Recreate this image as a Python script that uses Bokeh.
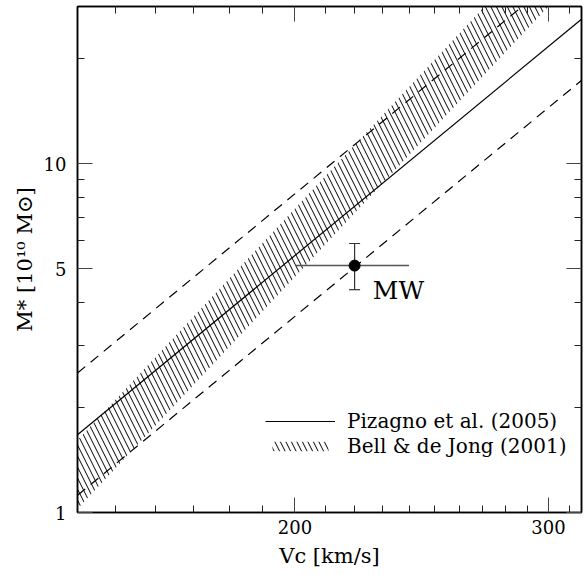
from bokeh.plotting import figure
from bokeh.models import (FixedTicker, LogAxis, Label, Legend, LegendItem, Range1d,
                          Whisker, TeeHead, ColumnDataSource, BasicTickFormatter)
from bokeh.embed import file_html
from bokeh.resources import INLINE

# ---- data ----
# Pizagno et al. (2005): end points of the relation and its scatter
piz_v = [141.25, 316.2]
piz_m = [1.67, 25.9]
piz_m_hi = [2.51, 38.9]
piz_m_lo = [1.12, 17.3]

# Bell & de Jong (2001) band (end points of upper and lower edges)
bell_v = [135.0, 320.0]
bell_m_hi = [1.32, 58.7]
bell_m_lo = [0.84, 37.5]

# Milky Way point
mw_v = [220.0]
mw_m = [5.1]
mw_v_lo = [200.0]
mw_v_hi = [240.0]
mw_m_lo = [4.35]
mw_m_hi = [5.9]

# axes
x_range = (141.25, 316.23)
y_range = (1.0, 28.18)
x_major = [200, 300]
x_minor = [150, 160, 170, 180, 190, 210, 220, 230, 240, 250, 260, 270, 280, 290, 310]
y_major = [1, 5, 10]
y_minor = [2, 3, 4, 6, 7, 8, 9, 20]

FONT = "DejaVu Serif"

p = figure(x_axis_type="log", y_axis_type="log",
           x_range=Range1d(*x_range), y_range=Range1d(*y_range),
           frame_width=504, frame_height=506, output_backend="svg", toolbar_location=None,
           min_border_left=77, min_border_right=3, min_border_top=6, min_border_bottom=64)
p.xgrid.visible = False
p.ygrid.visible = False
p.outline_line_color = "black"
p.outline_line_width = 1.5
p.background_fill_color = "white"
p.border_fill_color = "white"

xt = FixedTicker(ticks=x_major, minor_ticks=x_minor)
yt = FixedTicker(ticks=y_major, minor_ticks=y_minor)

def style_axis(ax, labels=True):
    ax.major_tick_in = 15
    ax.major_tick_out = 0
    ax.minor_tick_in = 7
    ax.minor_tick_out = 0
    ax.major_tick_line_color = "#444444"
    ax.minor_tick_line_color = "#222222"
    ax.axis_line_color = "black"
    ax.axis_line_width = 1.5
    ax.formatter = BasicTickFormatter(use_scientific=False)
    if labels:
        ax.major_label_text_font = FONT
        ax.major_label_text_font_size = "18px"
        ax.major_label_text_color = "black"
        ax.axis_label_text_font = FONT
        ax.axis_label_text_font_size = "21px"
        ax.axis_label_text_font_style = "normal"
        ax.axis_label_text_color = "black"
    else:
        ax.major_label_text_font_size = "1px"
        ax.major_label_text_color = None
        ax.major_label_standoff = 0

p.xaxis.ticker = xt
p.yaxis.ticker = yt
style_axis(p.xaxis[0])
style_axis(p.yaxis[0])
p.xaxis.major_label_standoff = 7
p.yaxis.major_label_standoff = 11
p.xaxis.axis_label = "Vc [km/s]"
p.xaxis.axis_label_standoff = 7
p.yaxis.axis_label = "M* [10¹⁰ M⊙]"
p.yaxis.axis_label_standoff = 4

top = LogAxis(ticker=xt)
right = LogAxis(ticker=yt)
style_axis(top, labels=False)
style_axis(right, labels=False)
p.add_layout(top, "above")
p.add_layout(right, "right")

# Bell & de Jong band (hatched)
band_src = ColumnDataSource(dict(x=bell_v + bell_v[::-1], y=bell_m_hi + bell_m_lo[::-1]))
band = p.patch("x", "y", source=band_src, fill_alpha=0, line_color=None,
               hatch_pattern="\\", hatch_scale=11, hatch_weight=1, hatch_color="black")

# Pizagno relation and scatter
solid = p.line(piz_v, piz_m, line_color="black", line_width=1.2)
p.line(piz_v, piz_m_hi, line_color="black", line_width=1.2, line_dash="10 7")
p.line(piz_v, piz_m_lo, line_color="black", line_width=1.2, line_dash="10 7")

# Milky Way point with error bars
p.segment(x0=mw_v_lo, y0=mw_m, x1=mw_v_hi, y1=mw_m, line_color="#555555", line_width=1.5)
mw_src = ColumnDataSource(dict(x=mw_v, lo=mw_m_lo, hi=mw_m_hi))
p.add_layout(Whisker(source=mw_src, base="x", lower="lo", upper="hi", dimension="height",
                     line_color="#333333", line_width=1.2,
                     upper_head=TeeHead(size=11, line_color="#333333", line_width=1.2),
                     lower_head=TeeHead(size=11, line_color="#333333", line_width=1.2)))
p.scatter(mw_v, mw_m, size=11, color="black")
p.add_layout(Label(x=226.5, y=4.33, text="MW", text_font=FONT, text_font_size="25px",
                   text_baseline="alphabetic", text_align="left", text_color="black"))

# legend
legend = Legend(items=[LegendItem(label="Pizagno et al. (2005)", renderers=[solid]),
                       LegendItem(label="Bell & de Jong (2001)", renderers=[band])],
                location=(188, 54), padding=0, margin=0, spacing=1,
                glyph_width=70, glyph_height=12, label_standoff=12,
                label_text_font=FONT, label_text_font_size="20px", label_text_color="black",
                background_fill_alpha=0, border_line_color=None)
p.add_layout(legend)

open("out.html", "w").write(file_html(p, INLINE))
